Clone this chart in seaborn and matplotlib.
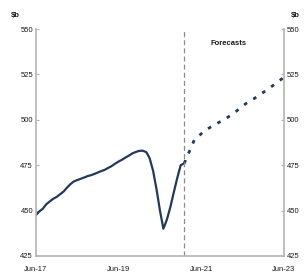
import matplotlib
matplotlib.use("Agg")
import matplotlib.pyplot as plt
import seaborn as sns
import pandas as pd
import numpy as np

sns.set_theme(style="white")
plt.rcParams['font.family'] = ['Liberation Sans', 'DejaVu Sans']

# Historical monthly series (Jun-17 .. Jan-21), $b
hist_start = "2017-06-01"
hist_values = [447.5, 449.5, 451.0, 453.5, 455.0, 456.5, 457.5, 459.0, 460.5, 462.5,
               464.5, 466.0, 466.8, 467.5, 468.2, 469.0, 469.5, 470.2, 471.0, 471.8,
               472.5, 473.5, 474.5, 475.8, 477.0, 478.0, 479.2, 480.3, 481.5, 482.3,
               482.9, 483.0, 482.2, 479.0, 472.0, 462.0, 450.0, 440.0, 445.0, 452.0,
               460.0, 468.0, 475.0, 476.0]

# Forecast (quarterly points)
fc_dates = ["2021-01-01", "2021-04-01", "2021-07-01", "2021-10-01", "2022-01-01",
            "2022-04-01", "2022-07-01", "2022-10-01", "2023-01-01", "2023-04-01",
            "2023-06-01"]
fc_values = [476.0, 489.0, 494.0, 497.5, 500.5, 504.5, 509.0, 512.5, 516.5, 520.5, 523.5]

yticks = [425, 450, 475, 500, 525, 550]
xtick_dates = ["2017-06-01", "2019-06-01", "2021-06-01", "2023-06-01"]
xtick_labels = ["Jun-17", "Jun-19", "Jun-21", "Jun-23"]
forecast_start = "2021-01-01"
unit = "$b"
forecast_label = "Forecasts"

hist = pd.DataFrame({"date": pd.date_range(hist_start, periods=len(hist_values), freq="MS"),
                     "value": hist_values})
fc = pd.DataFrame({"date": pd.to_datetime(fc_dates), "value": fc_values})

fig = plt.figure(figsize=(3.04, 2.77), dpi=100)
ax = fig.add_axes([0.118, 0.076, 0.816, 0.819])

line_col = "#22395a"
sns.lineplot(data=hist, x="date", y="value", ax=ax, color=line_col, lw=1.6)
sns.lineplot(data=fc, x="date", y="value", ax=ax, color=line_col, lw=2.0)
ax.lines[-1].set_dashes((1.3, 2.6))

ax.axvline(pd.Timestamp(forecast_start), color="#8a8a8a", lw=0.9, ls=(0, (4, 2.5)))

ax.set_xlim(pd.Timestamp("2017-06-01"), pd.Timestamp("2023-06-01"))
ax.set_ylim(425, 550)
ax.set_yticks(yticks)
ax.set_yticklabels([str(v) for v in yticks])
ax.set_xticks(pd.to_datetime(xtick_dates))
ax.set_xticklabels(xtick_labels)
ax.set_xlabel("")
ax.set_ylabel("")

spine_col = "#b4b4b4"
for s in ["left", "right", "bottom"]:
    ax.spines[s].set_color(spine_col)
    ax.spines[s].set_linewidth(1.2)
ax.spines["top"].set_visible(False)

ax.tick_params(axis="both", direction="in", length=2.5, width=0.8, color=spine_col,
               labelsize=5.5, labelcolor="#1a1a1a", pad=2)
ax.tick_params(axis="x", pad=7)
ax.tick_params(axis="y", left=True, right=False)

ax2 = ax.twinx()
ax2.set_ylim(425, 550)
ax2.set_yticks(yticks)
ax2.set_yticklabels([str(v) for v in yticks])
for s in ["left", "right", "bottom", "top"]:
    ax2.spines[s].set_visible(False)
ax2.tick_params(axis="y", direction="in", length=2.5, width=0.8, color=spine_col,
                labelsize=5.5, labelcolor="#1a1a1a", pad=2, right=True)

fig.text(0.05, 0.945, unit, fontsize=5.5, fontweight="bold", color="#1a1a1a", ha="center", va="center")
fig.text(0.97, 0.945, unit, fontsize=5.5, fontweight="bold", color="#1a1a1a", ha="center", va="center")
ax.text(pd.Timestamp("2022-02-01"), 542, forecast_label, fontsize=5.5, fontweight="bold",
        color="#1a1a1a", ha="center", va="center")

fig.savefig("out.png", dpi=100)
